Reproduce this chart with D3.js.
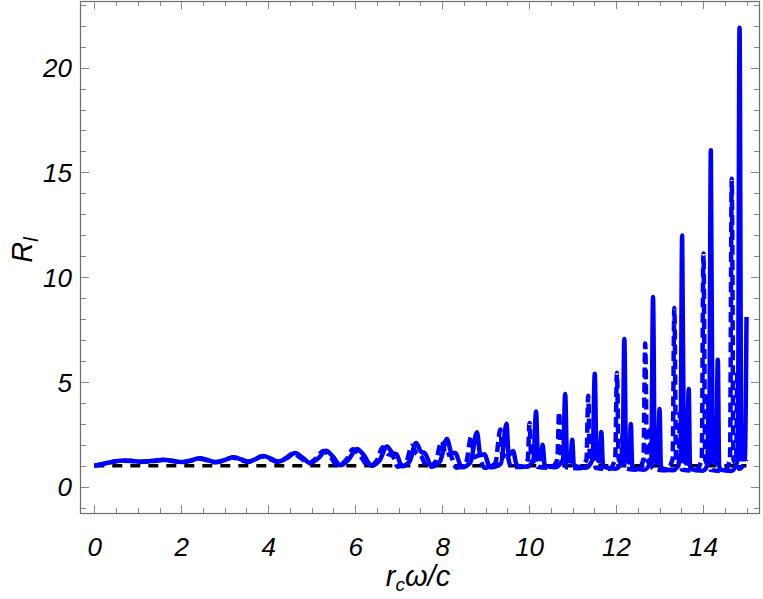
<!DOCTYPE html>
<html>
<head>
<meta charset="utf-8">
<script src="https://cdn.jsdelivr.net/npm/d3@7"></script>
<style>
html,body{margin:0;padding:0;background:#fff;}
svg text{font-family:"Liberation Sans",Arial,sans-serif;font-style:italic;}
</style>
</head>
<body>
<svg id="chart" width="763" height="599"></svg>
<script>
// ---- data ----
const xMajorTicks = [0, 2, 4, 6, 8, 10, 12, 14];
const yMajorTicks = [0, 5, 10, 15, 20];

const referenceLine = [[0, 1], [15, 1]];

const solidSeries = [
 [0,1.0],[0.2,1.08],[0.4,1.18],[0.67,1.25],[0.85,1.23],[1.05,1.19],[1.3,1.22],[1.59,1.28],[1.8,1.23],
 [2.01,1.17],[2.2,1.24],[2.43,1.35],[2.6,1.27],[2.78,1.17],[3.0,1.27],[3.2,1.4],[3.38,1.3],[3.54,1.2],
 [3.7,1.3],[3.89,1.46],[4.05,1.35],[4.23,1.2],[4.42,1.35],[4.62,1.6],[4.78,1.4],[4.96,1.13],[5.15,1.35],
 [5.33,1.71],[5.48,1.45],[5.66,1.02],[5.85,1.3],[6.04,1.8],[6.18,1.55],[6.38,1.0],[6.56,1.25],[6.73,1.92],
 [6.86,1.6],[6.95,1.55],[7.07,0.97],[7.25,1.2],[7.4,2.08],[7.52,1.65],[7.6,1.6],[7.76,0.95],[7.95,1.2],
 [8.11,2.27],[8.22,1.6],[8.3,1.6],[8.45,0.92],[8.65,1.15],[8.8,2.59],[8.88,1.5],[8.97,1.55],[9.1,0.92],
 [9.35,1.1],[9.48,3.0],[9.53,1.5],[9.63,1.7],[9.72,1.0],[9.95,0.95],[10.1,1.3],[10.16,3.59],[10.2,1.5],
 [10.27,1.3],[10.31,2.0],[10.36,1.0],[10.6,0.92],[10.78,1.3],[10.83,4.42],[10.87,1.4],[10.95,1.2],[10.99,2.24],[11.03,1.0],
 [11.3,0.9],[11.46,1.3],[11.51,5.39],[11.55,1.4],[11.62,1.2],[11.66,2.61],[11.7,0.95],[12.0,0.85],[12.15,1.3],
 [12.19,7.05],[12.23,1.3],[12.3,1.15],[12.34,2.99],[12.37,1.0],[12.41,0.88],[12.65,0.8],[12.81,1.3],[12.85,9.05],[12.89,1.3],
 [12.96,1.12],[13.0,3.71],[13.03,1.0],[13.07,0.85],[13.32,0.78],[13.48,1.3],[13.52,11.99],[13.56,1.3],[13.63,1.1],[13.67,4.66],[13.7,1.0],[13.74,0.82],
 [14.0,0.76],[14.14,1.3],[14.18,16.06],[14.22,1.3],[14.3,1.1],[14.34,6.06],[14.37,1.0],[14.41,0.8],[14.66,0.75],[14.8,1.3],
 [14.84,21.9],[14.88,1.3],[14.96,1.3],[15.0,8.1]
];

const dashedSeries = [
 [0,1.0],[0.2,1.08],[0.4,1.17],[0.65,1.24],[0.85,1.22],[1.05,1.18],[1.3,1.21],[1.57,1.27],[1.8,1.22],
 [2.0,1.16],[2.2,1.23],[2.4,1.34],[2.6,1.25],[2.77,1.16],[3.0,1.26],[3.17,1.39],[3.36,1.28],[3.52,1.18],
 [3.7,1.3],[3.85,1.45],[4.02,1.33],[4.2,1.18],[4.4,1.35],[4.57,1.58],[4.74,1.38],[4.92,1.1],[5.1,1.35],
 [5.27,1.7],[5.43,1.42],[5.6,1.0],[5.8,1.3],[5.95,1.78],[6.1,1.5],[6.32,0.98],[6.5,1.25],[6.63,1.88],
 [6.76,1.55],[6.85,1.5],[6.98,0.95],[7.18,1.2],[7.3,1.95],[7.42,1.55],[7.5,1.5],[7.66,0.93],[7.85,1.2],
 [7.99,2.16],[8.09,1.5],[8.17,1.55],[8.33,0.9],[8.55,1.15],[8.67,2.4],[8.74,1.4],[8.83,1.5],[8.97,0.9],
 [9.22,1.1],[9.34,2.72],[9.39,1.4],[9.48,1.6],[9.58,0.95],[9.85,0.93],[9.97,1.3],[10.01,3.04],[10.05,1.3],
 [10.11,1.2],[10.14,1.7],[10.19,0.95],[10.5,0.9],[10.65,1.3],[10.69,3.56],[10.73,1.3],[10.79,1.2],[10.82,1.9],[10.86,0.92],
 [11.17,0.88],[11.32,1.3],[11.36,4.34],[11.4,1.3],[11.46,1.2],[11.49,2.2],[11.53,0.9],[11.83,0.84],[11.98,1.3],
 [12.02,5.43],[12.06,1.3],[12.12,1.15],[12.15,2.5],[12.19,0.88],[12.5,0.8],[12.63,1.3],[12.67,6.83],[12.71,1.3],
 [12.77,1.12],[12.8,2.9],[12.84,0.85],[13.15,0.78],[13.3,1.3],[13.34,8.53],[13.38,1.3],[13.44,1.1],[13.47,3.5],[13.51,0.82],
 [13.82,0.76],[13.97,1.3],[14.01,11.13],[14.05,1.3],[14.1,1.1],[14.13,4.3],[14.17,0.8],[14.48,0.74],[14.62,1.3],
 [14.66,14.7],[14.7,1.3],[14.76,1.1],[14.79,5.5],[14.83,0.85],[15.0,1.3]
];

// ---- layout ----
const plot = {left: 80, right: 760, top: 1, bottom: 513};
const x = d3.scaleLinear().domain([-0.329, 15.31]).range([plot.left, plot.right]);
const y = d3.scaleLinear().domain([-1.26, 23.18]).range([plot.bottom, plot.top]);

const svg = d3.select("#chart");
svg.append("defs").append("clipPath").attr("id","clip")
  .append("rect").attr("x",plot.left).attr("y",plot.top)
  .attr("width",plot.right-plot.left).attr("height",plot.bottom-plot.top);

const xMinor = d3.range(0, 15.01, 0.5);
const yMinor = d3.range(-1, 23.01, 1);
const tickColor = "#8a8a8a";

// bottom axis labels
const bottomAxis = d3.axisBottom(x).tickValues(xMajorTicks).tickSize(0).tickPadding(0).tickFormat(d3.format("d"));
const gB = svg.append("g").attr("transform",`translate(0,${plot.bottom})`).call(bottomAxis);
gB.select(".domain").remove();
gB.selectAll("text").attr("dy",null).attr("y",43).attr("font-size",26).attr("fill","#000")
  .style("font-style","italic");
// left axis labels
const leftAxis = d3.axisLeft(y).tickValues(yMajorTicks).tickSize(0).tickPadding(0).tickFormat(d3.format("d"));
const gL = svg.append("g").attr("transform",`translate(${plot.left},0)`).call(leftAxis);
gL.select(".domain").remove();
gL.selectAll("text").attr("x",-8).attr("dy","0.36em").attr("font-size",26).attr("fill","#000")
  .style("font-style","italic");

// frame ticks (inward) on all four sides
const tg = svg.append("g").attr("stroke",tickColor).attr("stroke-width",1);
xMinor.forEach(v => {
  const major = xMajorTicks.includes(v);
  const L = major ? 8 : 5;
  const px = Math.round(x(v)) + 0.5;
  tg.append("line").attr("x1",px).attr("x2",px).attr("y1",plot.bottom).attr("y2",plot.bottom-L);
  tg.append("line").attr("x1",px).attr("x2",px).attr("y1",plot.top).attr("y2",plot.top+L);
});
yMinor.forEach(v => {
  const major = yMajorTicks.includes(v);
  const L = major ? 9 : 6;
  const py = Math.round(y(v)) + 0.5;
  tg.append("line").attr("y1",py).attr("y2",py).attr("x1",plot.left).attr("x2",plot.left+L);
  tg.append("line").attr("y1",py).attr("y2",py).attr("x1",plot.right).attr("x2",plot.right-L);
});

// frame
svg.append("rect").attr("x",plot.left+0.5).attr("y",plot.top+0.5)
  .attr("width",plot.right-plot.left-1).attr("height",plot.bottom-plot.top)
  .attr("fill","none").attr("stroke","#6e6e6e").attr("stroke-width",1.2);

// curves
const line = d3.line().x(d => x(d[0])).y(d => y(d[1])).curve(d3.curveMonotoneX);
const gC = svg.append("g").attr("clip-path","url(#clip)");
gC.append("path").datum(referenceLine).attr("d",line)
  .attr("fill","none").attr("stroke","#000").attr("stroke-width",3.5).attr("stroke-dasharray","10,8");
gC.append("path").datum(solidSeries).attr("d",line)
  .attr("fill","none").attr("stroke","#0000ff").attr("stroke-width",4.5).attr("stroke-linejoin","round");
gC.append("path").datum(dashedSeries).attr("d",line)
  .attr("fill","none").attr("stroke","#0000ff").attr("stroke-width",4.5).attr("stroke-dasharray","10,5");

// axis titles
const xt = svg.append("text").attr("x",418).attr("y",586).attr("text-anchor","middle")
  .attr("font-size",29).attr("fill","#000");
xt.append("tspan").text("r");
xt.append("tspan").attr("font-size",19).attr("dy",5).text("c");
xt.append("tspan").attr("dy",-5).text("ω/c");

const yt = svg.append("text").attr("transform","translate(32,250) rotate(-90)")
  .attr("text-anchor","middle").attr("font-size",29).attr("fill","#000");
yt.append("tspan").text("R");
yt.append("tspan").attr("font-size",20).attr("dy",6).text("l");
</script>
</body>
</html>
